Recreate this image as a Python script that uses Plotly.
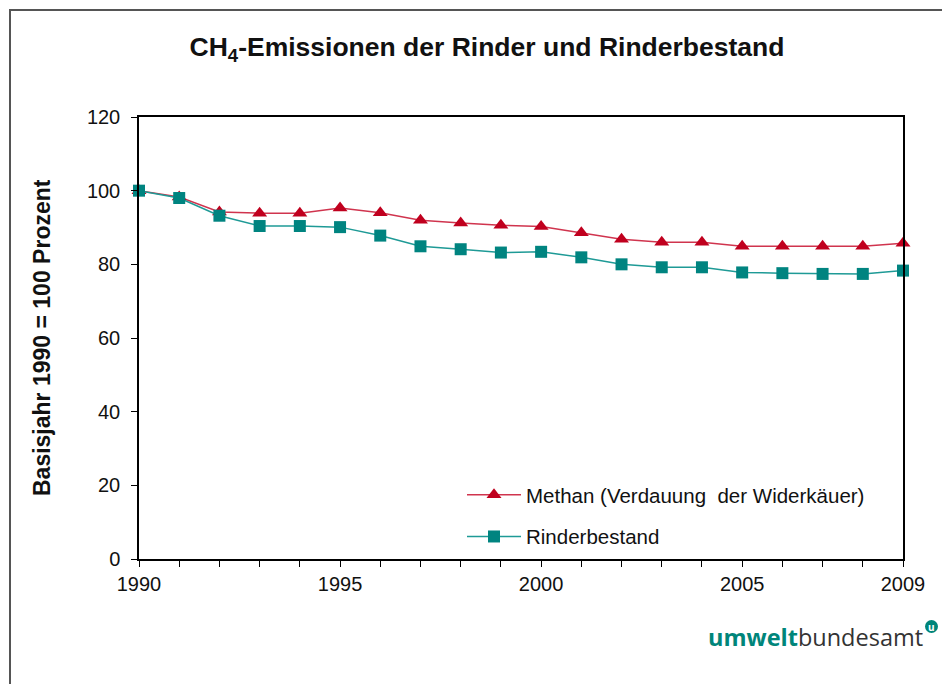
import plotly.graph_objects as go

years = list(range(1990, 2010))
methan = [100, 98.3, 94.2, 93.9, 93.9, 95.3, 94.0, 92.0, 91.2, 90.6, 90.3, 88.6, 86.8, 86.0, 86.0, 84.9, 84.9, 84.9, 84.9, 85.7]
rinder = [100, 98.0, 93.2, 90.4, 90.4, 90.1, 87.8, 84.9, 84.1, 83.2, 83.4, 81.9, 80.0, 79.2, 79.2, 77.8, 77.6, 77.4, 77.4, 78.3]
x_tickvals = [1990, 1995, 2000, 2005, 2009]
x_ticktext = ["1990", "1995", "2000", "2005", "2009"]
y_ticks = [0, 20, 40, 60, 80, 100, 120]

series_names = ["Methan (Verdauung  der Widerkäuer)", "Rinderbestand"]
title_text = "<b>CH<sub>4</sub>-Emissionen der Rinder und Rinderbestand</b>"
ytitle_text = "<b>Basisjahr 1990 = 100 Prozent</b>"

W, H = 942, 684
L, R, T, B = 139, 903, 117, 559

def px(x):
    return (x - L) / (R - L)

def py(y):
    return (B - y) / (B - T)

FONT = "Liberation Sans, Arial, sans-serif"

fig = go.Figure()
fig.add_trace(go.Scatter(
    x=years, y=methan, name=series_names[0], mode="lines+markers",
    line=dict(color="#D0344E", width=1.5),
    marker=dict(symbol="triangle-up", size=13, color="#C0001E"),
    cliponaxis=False, legendgroup="a",
))
fig.add_trace(go.Scatter(
    x=years, y=rinder, name=series_names[1], mode="lines+markers",
    line=dict(color="#1E9A96", width=1.5),
    marker=dict(symbol="square", size=12, color="#008480"),
    cliponaxis=False, legendgroup="b",
))

fig.update_layout(
    width=W, height=H,
    margin=dict(l=L, r=W - R, t=T, b=H - B, pad=0),
    paper_bgcolor="white", plot_bgcolor="white",
    font=dict(family=FONT, color="#111111", size=20),
    title=dict(text=title_text, x=487 / W, xref="container", xanchor="center",
               y=1 - 47 / H, yref="container", yanchor="middle",
               font=dict(size=26.5, family=FONT, color="#111111")),
    showlegend=True,
    legend=dict(x=px(462), y=py(475), xanchor="left", yanchor="top",
                bgcolor="rgba(0,0,0,0)", font=dict(size=20.5, family=FONT),
                itemwidth=54, tracegroupgap=12),
    xaxis=dict(range=[1990, 2009], tickvals=x_tickvals, ticktext=x_ticktext,
               ticks="outside", ticklen=6, tickcolor="black", tickwidth=1,
               minor=dict(dtick=1, tick0=1990, ticks="outside", ticklen=6,
                          tickcolor="black", tickwidth=1, showgrid=False),
               showline=True, linecolor="black", linewidth=1.5, mirror=True,
               showgrid=False, zeroline=False, tickfont=dict(size=20),
               ticklabelstandoff=0),
    yaxis=dict(range=[0, 120], tickvals=y_ticks,
               ticks="outside", ticklen=6, tickcolor="black", tickwidth=1,
               showline=True, linecolor="black", linewidth=1.5, mirror=True,
               showgrid=False, zeroline=False, tickfont=dict(size=20),
               ticklabelstandoff=7),
)

# y-axis title
fig.add_annotation(text=ytitle_text, x=px(42), y=py(338), xref="paper", yref="paper",
                   textangle=-90, showarrow=False, xanchor="center", yanchor="middle",
                   font=dict(size=23, family=FONT, color="#111111"))

# outer frame
fig.add_shape(type="rect", xref="paper", yref="paper",
              x0=px(10), x1=px(960), y0=py(700), y1=py(10),
              line=dict(color="#555555", width=2), fillcolor="rgba(0,0,0,0)", layer="below")

# logo
fig.add_annotation(text="<b><span style='color:#00857A'>umwelt</span></b><span style='color:#333333'>bundesamt</span>",
                   x=px(925), y=py(637), xref="paper", yref="paper", showarrow=False,
                   xanchor="right", yanchor="middle",
                   font=dict(size=23.5, family="Open Sans, sans-serif"))
fig.add_shape(type="circle", xref="paper", yref="paper",
              x0=px(925), x1=px(938), y0=py(633), y1=py(620),
              fillcolor="#00857A", line=dict(color="#00857A", width=0))
fig.add_annotation(text="<b>u</b>", x=px(931.5), y=py(626.5), xref="paper", yref="paper",
                   showarrow=False, xanchor="center", yanchor="middle",
                   font=dict(size=10, family="Open Sans, sans-serif", color="white"))

fig.write_html("out.html", config={"displayModeBar": False},
               post_script="document.body.style.margin='0';document.body.style.overflow='hidden';")
